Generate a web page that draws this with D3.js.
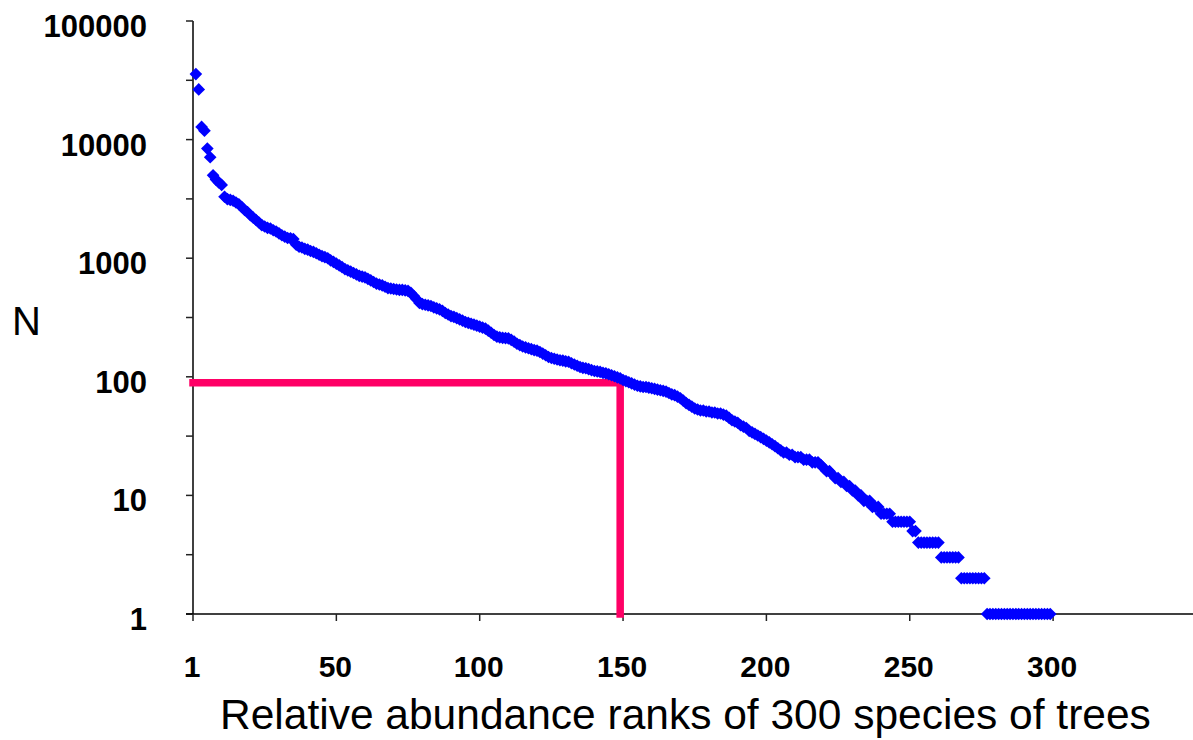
<!DOCTYPE html>
<html>
<head>
<meta charset="utf-8">
<script src="https://cdn.jsdelivr.net/npm/d3@7"></script>
<style>
  body { margin: 0; background: #fff; }
  svg { display: block; font-family: "Liberation Sans", Arial, sans-serif; }
  .axis-line { stroke: #000; stroke-width: 1.5; }
  .tick-mark { stroke: #222; stroke-width: 1.5; }
  .tick-label { font-weight: bold; fill: #000; }
</style>
</head>
<body>
<svg id="chart"></svg>
<script>
// Number of trees (N) for each species, ordered by abundance rank (rank = index + 1)
const counts = [
  35700, 26500, 12800, 11900, 8400, 7100, 5000, 4600, 4350, 4150,
  3300, 3150, 3100, 3050, 2950, 2850, 2700, 2550, 2450, 2300,
  2200, 2100, 2000, 1900, 1850, 1800, 1780, 1720, 1680, 1620,
  1560, 1520, 1480, 1470, 1450, 1300, 1250, 1230, 1200, 1180,
  1150, 1130, 1100, 1070, 1040, 1020, 1000, 960, 930, 900,
  870, 840, 810, 790, 770, 750, 730, 710, 700, 690,
  670, 650, 630, 610, 600, 590, 575, 560, 555, 550,
  545, 540, 540, 535, 530, 510, 480, 450, 420, 410,
  405, 400, 395, 385, 378, 370, 360, 345, 335, 325,
  320, 312, 305, 298, 290, 285, 280, 275, 270, 265,
  260, 255, 245, 235, 225, 218, 215, 213, 212, 211,
  205, 198, 190, 185, 180, 177, 174, 171, 168, 166,
  162, 157, 152, 147, 144, 142, 140, 138, 137, 135,
  134, 130, 127, 124, 121, 119, 118, 116, 114, 112,
  111, 110, 108, 107, 105, 103, 101, 99, 97, 94,
  92, 90, 88, 86, 84, 83, 82, 82, 81, 80,
  79, 78, 77, 76, 75, 73, 71, 70, 68, 66,
  63, 60, 58, 56, 54, 53, 52, 52, 51, 51,
  50, 50, 49, 49, 48, 47, 45, 43, 42, 41,
  39, 38, 37, 35, 34, 33, 32, 31, 30, 29,
  28, 27, 26, 25, 24, 23, 23, 22, 22, 21,
  21, 21, 20, 20, 20, 19, 19, 19, 18, 17,
  16, 16, 15, 14, 14, 13, 13, 12, 12, 11,
  11, 10, 10, 9, 9, 9, 8, 8, 8, 7,
  7, 7, 7, 6, 6, 6, 6, 6, 6, 6,
  5, 5, 4, 4, 4, 4, 4, 4, 4, 4,
  3, 3, 3, 3, 3, 3, 3, 2, 2, 2,
  2, 2, 2, 2, 2, 2, 1, 1, 1, 1,
  1, 1, 1, 1, 1, 1, 1, 1, 1, 1,
  1, 1, 1, 1, 1, 1, 1, 1, 1
];

// Cut-off marked by the pink guide line
const cutoffRank = 149;
const cutoffN = 89;

// Axis ticks
const xTicks = [0, 50, 100, 150, 200, 250, 300];
const xTickLabels = ['1', '50', '100', '150', '200', '250', '300'];
const yTicks = [1, 10, 100, 1000, 10000, 100000];
const yMinorTicks = [3.1623, 31.623, 316.23, 3162.3, 31623];

const xTitle = 'Relative abundance ranks of 300 species of trees';
const yTitle = 'N';

const width = 1193, height = 740;
const margin = {top: 21, left: 193, bottom: 126};

const svg = d3.select('#chart')
    .attr('width', width)
    .attr('height', height);

// Scales: rank on linear x, abundance on log y
const xScale = d3.scaleLinear()
    .domain([0, 350])
    .range([margin.left, margin.left + 350 * 2.867]);

const yScale = d3.scaleLog()
    .domain([1, 100000])
    .range([height - margin.bottom, margin.top]);

const x0 = xScale(0), yBase = yScale(1);

// y axis line + ticks
svg.append('line')
    .attr('class', 'axis-line')
    .attr('x1', x0).attr('x2', x0)
    .attr('y1', yScale(100000)).attr('y2', yBase);

svg.selectAll('.y-tick')
    .data(yTicks.concat(yMinorTicks))
  .join('line')
    .attr('class', 'tick-mark y-tick')
    .attr('x1', x0 - 7).attr('x2', x0)
    .attr('y1', d => yScale(d)).attr('y2', d => yScale(d));

svg.selectAll('.y-label')
    .data(yTicks)
  .join('text')
    .attr('class', 'tick-label y-label')
    .attr('x', 147)
    .attr('y', d => yScale(d) + 16)
    .attr('text-anchor', 'end')
    .style('font-size', '31px')
    .text(d => d);

// x axis line + ticks
svg.append('line')
    .attr('class', 'axis-line')
    .attr('x1', x0 - 7).attr('x2', width)
    .attr('y1', yBase).attr('y2', yBase);

svg.selectAll('.x-tick')
    .data(xTicks)
  .join('line')
    .attr('class', 'tick-mark x-tick')
    .attr('x1', d => xScale(d)).attr('x2', d => xScale(d))
    .attr('y1', yBase).attr('y2', yBase + 7);

svg.selectAll('.x-label')
    .data(xTicks)
  .join('text')
    .attr('class', 'tick-label x-label')
    .attr('x', d => xScale(d) - 1)
    .attr('y', 677)
    .attr('text-anchor', 'middle')
    .style('font-size', '30px')
    .text((d, i) => xTickLabels[i]);

// Titles
svg.append('text')
    .attr('x', 220)
    .attr('y', 729)
    .style('font-size', '42.5px')
    .text(xTitle);

svg.append('text')
    .attr('x', 12)
    .attr('y', 335)
    .style('font-size', '40px')
    .text(yTitle);

// Pink guide: horizontal at the cut-off N, then down at the cut-off rank
svg.append('path')
    .attr('d', d3.line()([
      [xScale(0), yScale(cutoffN)],
      [xScale(cutoffRank), yScale(cutoffN)],
      [xScale(cutoffRank), yScale(1)]
    ]))
    .attr('fill', 'none')
    .attr('stroke', '#ff0066')
    .attr('stroke-width', 7.5)
    .attr('stroke-linecap', 'square');

// Diamond markers
const diamond = d3.symbol().type(d3.symbolSquare).size(80);

svg.selectAll('.point')
    .data(counts)
  .join('path')
    .attr('class', 'point')
    .attr('d', diamond)
    .attr('transform', (d, i) => `translate(${xScale(i + 1)},${yScale(d)}) rotate(45)`)
    .attr('fill', '#0000ff');
</script>
</body>
</html>
